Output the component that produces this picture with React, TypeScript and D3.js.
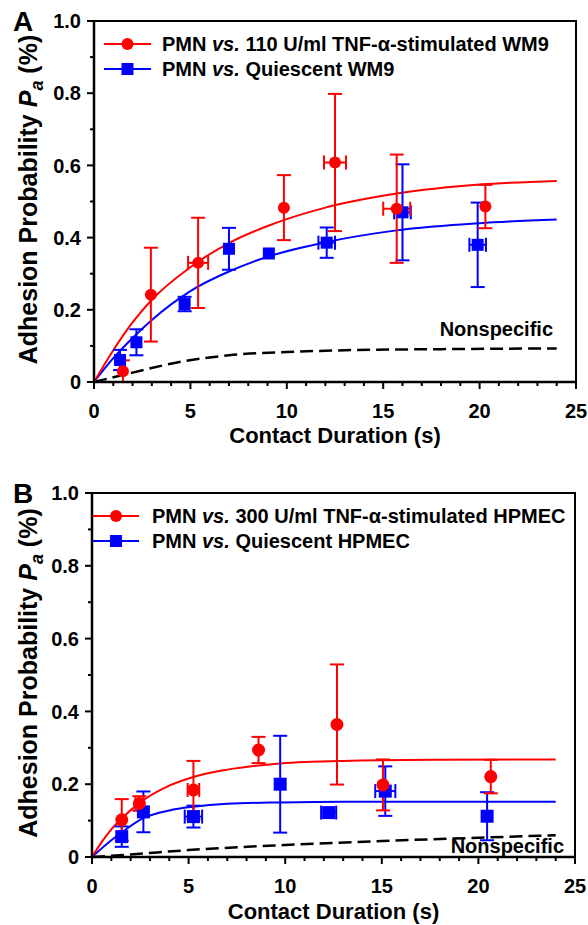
import React from 'react';
import * as d3 from 'd3';

// ---- Panel A data (WM9) ----
const aRedT = [1.5, 2.95, 5.4, 9.85, 12.5, 15.7, 20.3];
const aRedP = [0.03, 0.242, 0.33, 0.483, 0.608, 0.48, 0.486];
const aRedErr = [0.03, 0.13, 0.125, 0.09, 0.19, 0.15, 0.06];
const aRedXErr = [0, 0, 0.52, 0, 0.57, 0.7, 0];

const aBlueT = [1.35, 2.2, 4.7, 7.0, 9.07, 12.07, 16.0, 19.9];
const aBlueP = [0.061, 0.11, 0.216, 0.369, 0.356, 0.386, 0.47, 0.38];
const aBlueErr = [0.028, 0.036, 0.02, 0.058, 0, 0.042, 0.133, 0.117];
const aBlueXErr = [0, 0, 0, 0, 0, 0.43, 0.43, 0.43];

const aRedFitT = [0, 1, 2, 3, 5, 7, 9, 12, 15.7, 20, 24];
const aRedFitP = [0, 0.088, 0.165, 0.228, 0.318, 0.385, 0.432, 0.483, 0.522, 0.547, 0.557];
const aBlueFitT = [0, 1, 2, 3, 5, 7, 9, 12, 15.7, 20, 24];
const aBlueFitP = [0, 0.066, 0.122, 0.172, 0.252, 0.306, 0.347, 0.387, 0.42, 0.44, 0.45];
const aNonT = [0, 2, 4.5, 7, 10, 13, 18, 24];
const aNonP = [0, 0.026, 0.056, 0.074, 0.083, 0.088, 0.091, 0.093];

// ---- Panel B data (HPMEC) ----
const bRedT = [1.54, 2.45, 5.25, 8.62, 12.68, 15.06, 20.64];
const bRedP = [0.102, 0.147, 0.184, 0.294, 0.364, 0.198, 0.221];
const bRedErr = [0.057, 0.02, 0.08, 0.036, 0.165, 0.07, 0.046];
const bRedXErr = [0, 0.2, 0.3, 0, 0, 0, 0];

const bBlueT = [1.54, 2.66, 5.25, 9.74, 12.25, 15.18, 20.45];
const bBlueP = [0.056, 0.124, 0.111, 0.2, 0.122, 0.181, 0.112];
const bBlueErr = [0.028, 0.056, 0.03, 0.133, 0, 0.068, 0.066];
const bBlueXErr = [0, 0, 0.45, 0, 0.39, 0.52, 0];

const bRedFitT = [0, 0.5, 1, 1.5, 2.5, 4, 5.25, 7, 9.75, 13, 18, 24];
const bRedFitP = [0, 0.041, 0.076, 0.104, 0.15, 0.196, 0.22, 0.24, 0.257, 0.264, 0.267, 0.268];
const bBlueFitT = [0, 1, 1.5, 2.7, 4, 5.25, 7, 9.75, 13, 18, 24];
const bBlueFitP = [0, 0.046, 0.066, 0.108, 0.128, 0.138, 0.146, 0.15, 0.152, 0.152, 0.152];
const bNonT = [0, 2, 5, 10, 15, 20, 24];
const bNonP = [0, 0.007, 0.019, 0.033, 0.044, 0.053, 0.06];

const FONT = '"Liberation Sans", Arial, sans-serif';
const RED = '#ff0000';
const BLUE = '#0000ff';

const zip = (t: number[], p: number[]) => t.map((v, i) => [v, p[i]] as [number, number]);

type Series = { t: number[]; p: number[]; err: number[]; xerr: number[] };

const Panel = ({ label, left, right, top, bottom, titleY, legend, red, blue, redFit, blueFit, non, nonLabel, r }: any) => {
  const x = d3.scaleLinear().domain([0, 25]).range([left, right]);
  const y = d3.scaleLinear().domain([0, 1]).range([bottom, top]);
  const line = d3.line<[number, number]>().x(d => x(d[0])).y(d => y(d[1])).curve(d3.curveMonotoneX);

  const errBars = (s: Series, color: string) =>
    s.t.map((t, i) => {
      const cx = x(t), cy = y(s.p[i]);
      const e = s.err[i], xe = s.xerr[i];
      return (
        <g key={i} stroke={color} strokeWidth={2}>
          {e > 0 && (
            <>
              <line x1={cx} x2={cx} y1={y(s.p[i] - e)} y2={y(s.p[i] + e)} />
              <line x1={cx - 7} x2={cx + 7} y1={y(s.p[i] - e)} y2={y(s.p[i] - e)} />
              <line x1={cx - 7} x2={cx + 7} y1={y(s.p[i] + e)} y2={y(s.p[i] + e)} />
            </>
          )}
          {xe > 0 && (
            <>
              <line x1={x(t - xe)} x2={x(t + xe)} y1={cy} y2={cy} />
              <line x1={x(t - xe)} x2={x(t - xe)} y1={cy - 7} y2={cy + 7} />
              <line x1={x(t + xe)} x2={x(t + xe)} y1={cy - 7} y2={cy + 7} />
            </>
          )}
        </g>
      );
    });

  return (
    <g fontFamily={FONT} fontWeight="bold">
      {/* frame top/right */}
      <path d={`M${left},${top}H${right}V${bottom}`} fill="none" stroke="#000" strokeWidth={2} />

      {/* fitted curves */}
      <path d={line(zip(non.t, non.p)) || ''} fill="none" stroke="#000" strokeWidth={2.5} strokeDasharray="13,6" />
      <path d={line(zip(blueFit.t, blueFit.p)) || ''} fill="none" stroke={BLUE} strokeWidth={2} />
      <path d={line(zip(redFit.t, redFit.p)) || ''} fill="none" stroke={RED} strokeWidth={2} />

      {errBars(blue, BLUE)}
      {errBars(red, RED)}
      {blue.t.map((t: number, i: number) => (
        <rect key={'b' + i} x={x(t) - r} y={y(blue.p[i]) - r} width={2 * r} height={2 * r} fill={BLUE} />
      ))}
      {red.t.map((t: number, i: number) => (
        <circle key={'r' + i} cx={x(t)} cy={y(red.p[i])} r={r} fill={RED} />
      ))}

      {/* axes */}
      <line x1={left} x2={right} y1={bottom} y2={bottom} stroke="#000" strokeWidth={2.5} />
      <line x1={left} x2={left} y1={top} y2={bottom} stroke="#000" strokeWidth={2.5} />
      {d3.range(0, 26).map(v => (
        <line key={'xt' + v} x1={x(v)} x2={x(v)} y1={bottom} y2={bottom + (v % 5 === 0 ? 7 : 4)} stroke="#000" strokeWidth={2} />
      ))}
      {[0, 5, 10, 15, 20, 25].map(v => (
        <text key={'xl' + v} x={x(v)} y={bottom + 36} textAnchor="middle" fontSize={20}>{v}</text>
      ))}
      {d3.range(0, 11).map(k => (
        <line key={'yt' + k} x1={left - (k % 2 === 0 ? 7 : 4)} x2={left} y1={y(k / 10)} y2={y(k / 10)} stroke="#000" strokeWidth={2} />
      ))}
      {[0, 0.2, 0.4, 0.6, 0.8, 1.0].map(v => (
        <text key={'yl' + v} x={left - 13} y={y(v)} dy="0.36em" textAnchor="end" fontSize={20}>
          {v === 0 ? '0' : d3.format('.1f')(v)}
        </text>
      ))}

      <text x={(left + right) / 2} y={titleY} textAnchor="middle" fontSize={22}>Contact Duration (s)</text>
      <text transform={`translate(37,${(top + bottom) / 2 - 2}) rotate(-90)`} textAnchor="middle" fontSize={25}>
        Adhesion Probability <tspan fontStyle="italic">P</tspan>
        <tspan fontStyle="italic" fontSize={18} dy={6}>a</tspan>
        <tspan dy={-6}> (%)</tspan>
      </text>
      <text x={13} y={top + 10} fontSize={28}>{label}</text>

      {/* legend */}
      {legend.items.map((it: any, i: number) => {
        const ly = legend.y + i * 25;
        return (
          <g key={'lg' + i}>
            <line x1={legend.x0} x2={legend.x1} y1={ly} y2={ly} stroke={it.color} strokeWidth={2} />
            {it.shape === 'circle' ? (
              <circle cx={(legend.x0 + legend.x1) / 2} cy={ly} r={6} fill={it.color} />
            ) : (
              <rect x={(legend.x0 + legend.x1) / 2 - 6} y={ly - 6} width={12} height={12} fill={it.color} />
            )}
            <text x={legend.tx} y={ly} dy="0.36em" fontSize={20}>
              PMN <tspan fontStyle="italic">vs.</tspan> {it.text}
            </text>
          </g>
        );
      })}
      <text x={nonLabel.x} y={nonLabel.y} textAnchor="end" fontSize={20}>Nonspecific</text>
    </g>
  );
};

export default function App() {
  return (
    <svg width={588} height={925} style={{ position: 'absolute', left: 0, top: 0, background: '#fff' }}>
      <rect width={588} height={925} fill="#fff" />
      <Panel
        label="A" left={94} right={576} top={21} bottom={382} titleY={443} r={6}
        legend={{
          x0: 104, x1: 151, tx: 162, y: 44,
          items: [
            { color: RED, shape: 'circle', text: '110 U/ml TNF-\u03b1-stimulated WM9' },
            { color: BLUE, shape: 'square', text: 'Quiescent WM9' },
          ],
        }}
        red={{ t: aRedT, p: aRedP, err: aRedErr, xerr: aRedXErr }}
        blue={{ t: aBlueT, p: aBlueP, err: aBlueErr, xerr: aBlueXErr }}
        redFit={{ t: aRedFitT, p: aRedFitP }}
        blueFit={{ t: aBlueFitT, p: aBlueFitP }}
        non={{ t: aNonT, p: aNonP }}
        nonLabel={{ x: 553, y: 336 }}
      />
      <Panel
        label="B" left={92} right={575} top={493} bottom={857} titleY={919} r={6.5}
        legend={{
          x0: 93, x1: 139, tx: 152, y: 516,
          items: [
            { color: RED, shape: 'circle', text: '300 U/ml TNF-\u03b1-stimulated HPMEC' },
            { color: BLUE, shape: 'square', text: 'Quiescent HPMEC' },
          ],
        }}
        red={{ t: bRedT, p: bRedP, err: bRedErr, xerr: bRedXErr }}
        blue={{ t: bBlueT, p: bBlueP, err: bBlueErr, xerr: bBlueXErr }}
        redFit={{ t: bRedFitT, p: bRedFitP }}
        blueFit={{ t: bBlueFitT, p: bBlueFitP }}
        non={{ t: bNonT, p: bNonP }}
        nonLabel={{ x: 564, y: 853 }}
      />
    </svg>
  );
}
